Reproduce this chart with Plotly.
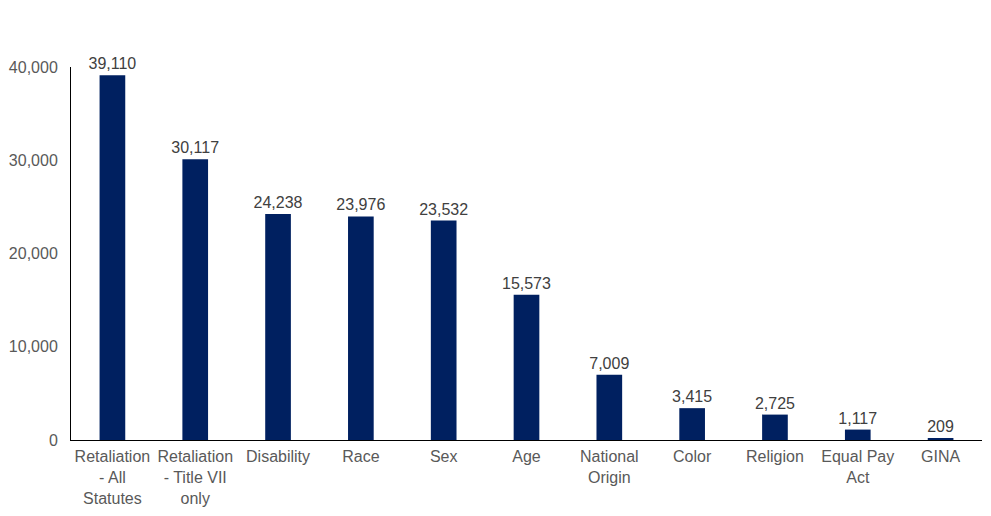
import plotly.graph_objects as go

categories = ["Retaliation<br>- All<br>Statutes", "Retaliation<br>- Title VII<br>only", "Disability", "Race", "Sex", "Age",
              "National<br>Origin", "Color", "Religion", "Equal Pay<br>Act", "GINA"]
values = [39110, 30117, 24238, 23976, 23532, 15573, 7009, 3415, 2725, 1117, 209]
tick_vals = [0, 10000, 20000, 30000, 40000]
tick_text = ["0", "10,000", "20,000", "30,000", "40,000"]

fig = go.Figure(go.Bar(
    x=categories, y=values,
    marker=dict(color="#002060", line=dict(width=0)),
    text=[f"{v:,}" for v in values], textposition="outside",
    constraintext="none",
    textfont=dict(family="Liberation Sans, Arial", size=16, color="#404040"),
    cliponaxis=False,
))
fig.update_layout(
    width=991, height=516,
    margin=dict(l=71, r=9, t=67, b=76),
    plot_bgcolor="white", paper_bgcolor="white",
    bargap=0.69,
    showlegend=False,
    font=dict(family="Liberation Sans, Arial", size=16, color="#595959"),
)
fig.update_yaxes(range=[0, 40000], tickvals=tick_vals, ticktext=tick_text,
                 showgrid=False, showline=True, linecolor="black", linewidth=1,
                 ticks="", ticklen=0, zeroline=False, ticklabelstandoff=9,
                 automargin=False,
                 tickfont=dict(size=16, color="#595959"))
fig.update_xaxes(showline=True, linecolor="black", linewidth=1, ticks="",
                 ticklabelstandoff=2, automargin=False,
                 tickfont=dict(size=16, color="#595959"), tickangle=0)
fig.write_html("out.html")
